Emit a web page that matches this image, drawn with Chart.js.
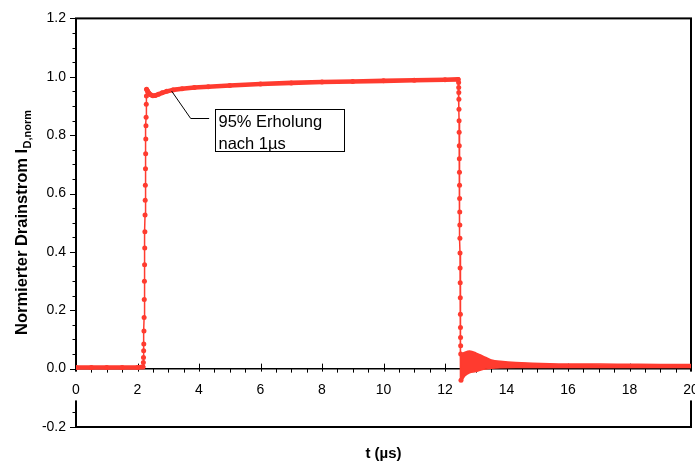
<!DOCTYPE html>
<html>
<head>
<meta charset="utf-8">
<script src="https://cdn.jsdelivr.net/npm/chart.js@4.4.1/dist/chart.umd.min.js"></script>
<style>
  html, body { margin: 0; padding: 0; background: #fff; }
  #wrap { width: 695px; height: 466px; }
</style>
</head>
<body>
<div id="wrap"><canvas id="chart" width="695" height="466"></canvas></div>
<script>
// Zeit in µs, normierter Drainstrom
const baseT = [0, 0.5, 1.0, 1.5, 2.0, 2.18];
const baseI = [0.004, 0.004, 0.004, 0.004, 0.004, 0.006];

const riseT = [2.190, 2.195, 2.200, 2.205, 2.210, 2.215, 2.220, 2.225, 2.230, 2.235, 2.240,
               2.245, 2.250, 2.255, 2.260, 2.265, 2.270, 2.275, 2.280, 2.285, 2.290, 2.295];
const riseI = [0.021, 0.038, 0.061, 0.084, 0.129, 0.175, 0.237, 0.299, 0.356, 0.413, 0.469,
               0.526, 0.577, 0.628, 0.685, 0.736, 0.787, 0.832, 0.861, 0.906, 0.934, 0.957];

const topT = [2.32, 2.37, 2.43, 2.50, 2.58, 2.68, 2.80, 2.95, 3.15, 3.45, 3.85,
              4.30, 5.00, 6.00, 7.00, 8.00, 9.00, 10.00, 11.00, 12.00, 12.43];
const topI = [0.952, 0.944, 0.938, 0.935, 0.936, 0.940, 0.945, 0.950, 0.955, 0.959, 0.963,
              0.966, 0.970, 0.975, 0.979, 0.982, 0.984, 0.986, 0.988, 0.990, 0.991];

const fallT = [12.443, 12.446, 12.449, 12.452, 12.455, 12.458, 12.461, 12.464, 12.467, 12.470, 12.473, 12.476,
               12.479, 12.482, 12.485, 12.488, 12.491, 12.494, 12.497, 12.500, 12.503, 12.506, 12.509, 12.512, 12.52];
const fallI = [0.980, 0.963, 0.946, 0.923, 0.889, 0.849, 0.810, 0.764, 0.719, 0.673, 0.628, 0.583,
               0.537, 0.492, 0.447, 0.396, 0.345, 0.294, 0.243, 0.186, 0.141, 0.107, 0.078, 0.050, -0.040];

// Nachschwingen nach dem Abschalten: obere / untere Einhüllende des Bandes
const ringT  = [12.52, 12.55, 12.65, 12.80, 13.00, 13.25, 13.50, 13.80, 14.30, 15.40, 16.50, 17.60, 19.00, 20.00];
const ringHi = [0.045, 0.050, 0.056, 0.060, 0.054, 0.042, 0.030, 0.025, 0.021, 0.017, 0.016, 0.015, 0.0145, 0.014];
const ringLo = [-0.042, -0.040, -0.024, -0.014, -0.010, -0.002, 0.001, 0.003, 0.004, 0.004, 0.004, 0.004, 0.004, 0.004];

const xTicks = [0, 2, 4, 6, 8, 10, 12, 14, 16, 18, 20];
const yTicks = [-0.2, 0.0, 0.2, 0.4, 0.6, 0.8, 1.0, 1.2];

const RED = '#ff3b2f';
const FONT = '"Liberation Sans", Arial, sans-serif';

const allT = [].concat(baseT, riseT, topT, fallT);
const allI = [].concat(baseI, riseI, topI, fallI);
const points = allT.map((t, i) => ({ x: t, y: allI[i] }));
const hiPoints = ringT.map((t, i) => ({ x: t, y: ringHi[i] }));
const loPoints = ringT.map((t, i) => ({ x: t, y: ringLo[i] }));

// Rahmen, Achsenlinie bei 0 und Teilstriche
const framePlugin = {
  id: 'frame',
  beforeDraw(chart) {
    const { ctx, chartArea: a, scales: { x, y } } = chart;
    const y0 = y.getPixelForValue(0);
    ctx.save();
    ctx.strokeStyle = '#000';
    ctx.lineWidth = 2;
    ctx.strokeRect(a.left, a.top, a.right - a.left, a.bottom - a.top);
    ctx.lineWidth = 1.5;
    ctx.beginPath();
    ctx.moveTo(a.left, y0);
    ctx.lineTo(a.right, y0);
    ctx.stroke();
    ctx.lineWidth = 1;
    ctx.beginPath();
    for (let v = 0; v <= 20.001; v += 0.5) {
      const px = Math.round(x.getPixelForValue(v)) + 0.5;
      const major = Math.abs(v / 2 - Math.round(v / 2)) < 1e-6;
      ctx.moveTo(px, major ? y0 - 5 : y0);
      ctx.lineTo(px, major ? y0 + 5 : y0 + 4);
    }
    for (let v = -0.2; v <= 1.2001; v += 0.05) {
      const py = Math.round(y.getPixelForValue(v)) + 0.5;
      const major = Math.abs(v / 0.2 - Math.round(v / 0.2)) < 1e-6;
      ctx.moveTo(a.left - (major ? 6 : 3.5), py);
      ctx.lineTo(a.left, py);
    }
    ctx.stroke();
    ctx.restore();
  }
};

// Achsentitel (y mit Index) und Anmerkung
const textPlugin = {
  id: 'texts',
  afterDatasetsDraw(chart) {
    const { ctx, chartArea: a, scales: { x, y } } = chart;
    ctx.save();
    ctx.fillStyle = '#000';
    ctx.font = 'bold 15px ' + FONT;
    ctx.textAlign = 'center';
    ctx.fillText('t (µs)', (a.left + a.right) / 2, 458);
    ctx.textAlign = 'left';
    ctx.translate(27, (a.top + a.bottom) / 2);
    ctx.rotate(-Math.PI / 2);
    const main = 'Normierter Drainstrom I';
    const sub = 'D,norm';
    ctx.font = 'bold 16.5px ' + FONT;
    const w1 = ctx.measureText(main).width;
    ctx.font = 'bold 11px ' + FONT;
    const w2 = ctx.measureText(sub).width;
    const x0 = -(w1 + w2) / 2;
    ctx.font = 'bold 16.5px ' + FONT;
    ctx.fillText(main, x0, 0);
    ctx.font = 'bold 11px ' + FONT;
    ctx.fillText(sub, x0 + w1 + 0.5, 4);
    ctx.restore();

    const px = t => x.getPixelForValue(t);
    const py = v => y.getPixelForValue(v);
    ctx.save();
    ctx.strokeStyle = '#000';
    ctx.lineWidth = 1;
    ctx.beginPath();
    ctx.moveTo(px(3.11), py(0.951));
    ctx.lineTo(px(3.73), py(0.857));
    ctx.lineTo(px(4.33), py(0.857));
    ctx.stroke();
    const bx = Math.round(px(4.51)) + 0.5, by = Math.round(py(0.891)) + 0.5;
    const bw = Math.round(px(8.74) - bx), bh = Math.round(py(0.745) - by);
    ctx.fillStyle = '#fff';
    ctx.fillRect(bx, by, bw, bh);
    ctx.strokeRect(bx, by, bw, bh);
    ctx.fillStyle = '#000';
    ctx.font = '16.5px ' + FONT;
    ctx.fillText('95% Erholung', bx + 3, by + 17.5);
    ctx.fillText('nach 1µs', bx + 3, by + 39);
    ctx.restore();
  }
};

const bandStyle = {
  borderColor: RED,
  backgroundColor: RED,
  borderWidth: 1.5,
  pointRadius: 0,
  tension: 0.3
};

new Chart(document.getElementById('chart'), {
  type: 'line',
  data: {
    datasets: [{
      label: 'ID,norm',
      data: points,
      borderColor: RED,
      backgroundColor: RED,
      pointBackgroundColor: RED,
      pointBorderWidth: 0,
      pointRadius: 2.5,
      borderCapStyle: 'round',
      borderJoinStyle: 'round',
      borderWidth: 1.5,
      tension: 0,
      segment: {
        borderWidth: c => Math.abs(c.p1.y - c.p0.y) > 3 * Math.abs(c.p1.x - c.p0.x) ? 1.5 : 4.6
      }
    }, {
      label: 'Nachschwingen oben',
      data: hiPoints,
      fill: false,
      ...bandStyle
    }, {
      label: 'Nachschwingen unten',
      data: loPoints,
      fill: '-1',
      ...bandStyle
    }]
  },
  options: {
    responsive: false,
    devicePixelRatio: 1,
    animation: false,
    events: [],
    layout: { padding: { left: 0, right: 4, top: 15, bottom: 39 } },
    plugins: {
      legend: { display: false },
      tooltip: { enabled: false },
      title: { display: false }
    },
    scales: {
      x: {
        type: 'linear',
        position: { y: 0 },
        min: 0,
        max: 20,
        afterBuildTicks: s => { s.ticks = xTicks.map(v => ({ value: v })); },
        afterFit: s => { s.paddingLeft = 0; s.paddingRight = 0; },
        grid: { display: false, drawTicks: false },
        border: { display: false },
        ticks: {
          color: '#000',
          font: { family: FONT, size: 14 },
          padding: 13,
          maxRotation: 0,
          autoSkip: false,
          showLabelBackdrop: true,
          backdropColor: '#fff',
          backdropPadding: { top: 10, bottom: 2, left: 1, right: 1 },
          callback: v => String(v)
        }
      },
      y: {
        type: 'linear',
        min: -0.2,
        max: 1.2,
        afterBuildTicks: s => { s.ticks = yTicks.map(v => ({ value: v })); },
        afterFit: s => { s.width = 76; },
        grid: { display: false, drawTicks: false },
        border: { display: false },
        ticks: {
          color: '#000',
          font: { family: FONT, size: 14 },
          padding: 10,
          autoSkip: false,
          callback: v => v.toFixed(1)
        }
      }
    }
  },
  plugins: [framePlugin, textPlugin]
});
</script>
</body>
</html>
